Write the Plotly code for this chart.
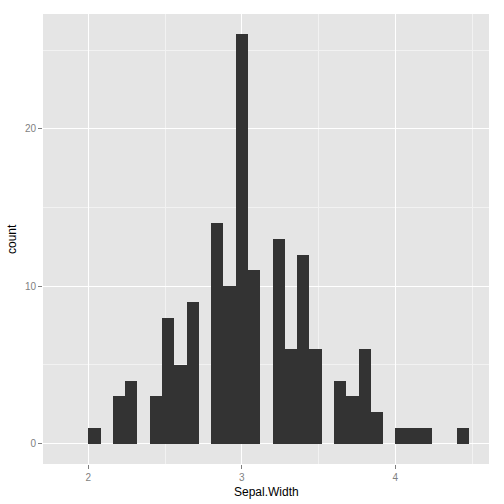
import plotly.graph_objects as go

# iris Sepal.Width, binned with width 0.08 starting at 2.0
bin_left = [2.00, 2.16, 2.24, 2.40, 2.48, 2.56, 2.64, 2.80, 2.88, 2.96, 3.04,
            3.20, 3.28, 3.36, 3.44, 3.60, 3.68, 3.76, 3.84, 4.00, 4.08, 4.16, 4.40]
counts = [1, 3, 4, 3, 8, 5, 9, 14, 10, 26, 11,
          13, 6, 12, 6, 4, 3, 6, 2, 1, 1, 1, 1]
bin_width = 0.08

x_ticks = [2, 3, 4]
y_ticks = [0, 10, 20]

fig = go.Figure()
fig.add_trace(go.Bar(
    x=bin_left,
    y=counts,
    width=bin_width,
    offset=0,
    marker=dict(color="#333333", line=dict(width=0)),
    hoverinfo="x+y",
))

axis_common = dict(
    automargin=False,
    showline=False,
    zeroline=False,
    gridcolor="#FFFFFF",
    gridwidth=1.2,
    ticks="outside",
    ticklen=4,
    tickwidth=1,
    tickcolor="#7F7F7F",
    tickfont=dict(family="Liberation Sans, Arial", size=10, color="#7F7F7F"),
)

fig.update_xaxes(
    **axis_common,
    range=[1.705, 4.61],
    tickvals=x_ticks,
    ticktext=[str(v) for v in x_ticks],
    minor=dict(dtick=1, tick0=2.5, gridcolor="#F2F2F2", gridwidth=0.6, showgrid=True),
)
fig.update_yaxes(
    **axis_common,
    range=[-1.3, 27.3],
    tickvals=y_ticks,
    ticktext=[str(v) for v in y_ticks],
    minor=dict(dtick=10, tick0=5, gridcolor="#F2F2F2", gridwidth=0.6, showgrid=True),
)

title_font = dict(family="Liberation Sans, Arial", size=12, color="#000000")
# axis titles as annotations so they sit where ggplot puts them
fig.add_annotation(text="Sepal.Width", xref="paper", yref="paper", x=0.5, y=0,
                   xanchor="center", yanchor="top", yshift=-19,
                   showarrow=False, font=title_font)
fig.add_annotation(text="count", xref="paper", yref="paper", x=0, y=0.5,
                   xanchor="center", yanchor="middle", xshift=-31, textangle=-90,
                   showarrow=False, font=title_font)

fig.update_layout(
    width=504,
    height=504,
    margin=dict(l=43, r=15, t=14, b=40),
    plot_bgcolor="#E5E5E5",
    paper_bgcolor="#FFFFFF",
    showlegend=False,
    bargap=0,
)

# drop the default 8px body margin so the figure fills the window exactly
fig.write_html("out.html", config={"displayModeBar": False},
               post_script="document.body.style.margin='0';")
